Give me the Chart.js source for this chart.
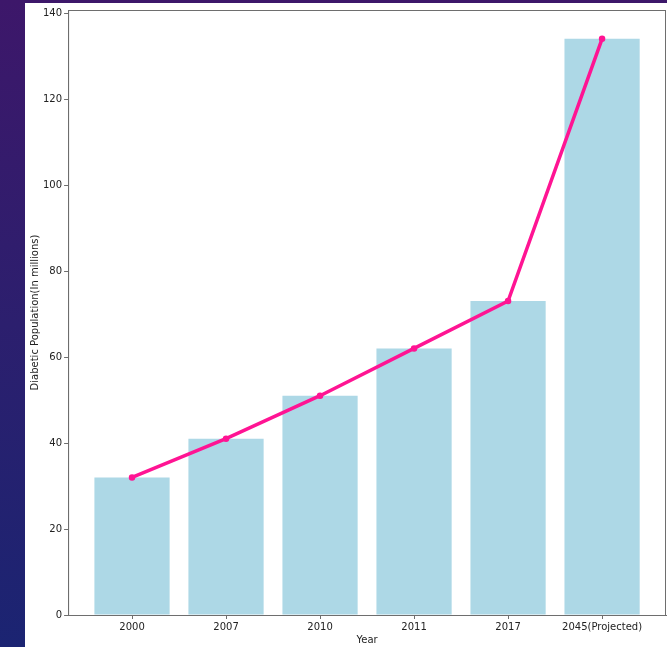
<!DOCTYPE html>
<html>
<head>
<meta charset="utf-8">
<script src="https://cdn.jsdelivr.net/npm/chart.js@4"></script>
<style>
  html, body { margin: 0; padding: 0; }
  body {
    width: 667px; height: 647px; overflow: hidden;
    background: linear-gradient(180deg, #3d176a 0%, #2c1f6e 50%, #1b2472 100%);
    position: relative;
  }
  #wrap { position: absolute; left: 25px; top: 3px; width: 642px; height: 644px; background: #fff; }
</style>
</head>
<body>
<div id="wrap"><canvas id="chart" width="642" height="644"></canvas></div>
<script>
const years = ["2000", "2007", "2010", "2011", "2017", "2045(Projected)"];
const population = [32, 41, 51, 62, 73, 134];
const yTicks = [0, 20, 40, 60, 80, 100, 120, 140];

const frame = {
  id: "frame",
  afterDraw(chart) {
    const { ctx, chartArea: a } = chart;
    ctx.save();
    ctx.strokeStyle = "#6e6e6e";
    ctx.lineWidth = 1;
    ctx.strokeRect(a.left + 0.5, a.top + 0.5, a.right - a.left - 1, a.bottom - a.top);
    ctx.restore();
  }
};

const font = { family: "DejaVu Sans", size: 10 };

new Chart(document.getElementById("chart"), {
  type: "bar",
  data: {
    datasets: [
      {
        type: "line",
        data: population.map((v, i) => ({ x: i, y: v })),
        borderColor: "#ff1493",
        backgroundColor: "#ff1493",
        borderWidth: 3.5,
        pointRadius: 1.5,
        pointHoverRadius: 1.5,
        tension: 0,
        order: 0
      },
      {
        data: population.map((v, i) => ({ x: i, y: v })),
        backgroundColor: "#add8e6",
        barPercentage: 0.8,
        categoryPercentage: 1,
        order: 1
      }
    ]
  },
  plugins: [frame],
  options: {
    responsive: false,
    animation: false,
    layout: { autoPadding: false, padding: { top: 7, right: 1, left: 4, bottom: 0 } },
    plugins: { legend: { display: false }, tooltip: { enabled: false } },
    scales: {
      x: {
        type: "linear",
        offset: false,
        min: -0.68,
        max: 5.68,
        afterBuildTicks: s => { s.ticks = years.map((_, i) => ({ value: i })); },
        afterFit: s => { s.paddingRight = 0; s.paddingLeft = 0; },
        ticks: {
          callback: v => years[v],
          color: "#222",
          font,
          padding: 2,
          maxRotation: 0,
          autoSkip: false
        },
        grid: { drawOnChartArea: false, offset: false, tickLength: 4, color: "#6e6e6e" },
        border: { color: "#6e6e6e" },
        title: { display: true, text: "Year", color: "#222", font, padding: { top: -1, bottom: 1 } }
      },
      y: {
        min: 0,
        max: 140.7,
        afterBuildTicks: s => { s.ticks = yTicks.map(v => ({ value: v })); },
        afterFit: s => { s.paddingTop = 0; },
        ticks: { color: "#222", font, padding: 2 },
        grid: { drawOnChartArea: false, tickLength: 4, color: "#6e6e6e" },
        border: { color: "#6e6e6e" },
        title: { display: true, text: "Diabetic Population(In millions)", color: "#222", font, padding: { top: 0, bottom: 0 } }
      }
    }
  }
});
</script>
</body>
</html>
